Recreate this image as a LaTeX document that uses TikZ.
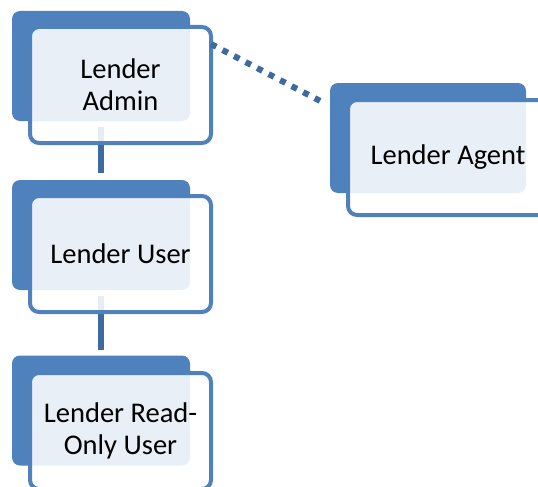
\documentclass[tikz,border=0pt]{standalone}
\usepackage{fontspec}
\setmainfont{Carlito}
\usetikzlibrary{calc}
\definecolor{backblue}{HTML}{4F81BD}
\definecolor{connblue}{HTML}{3F6A9F}
\tikzset{
  backbox/.style={fill=backblue, draw=none, rounded corners=8pt, minimum width=178pt, minimum height=110pt, inner sep=0pt, outer sep=0pt},
  frontbox/.style={draw=backblue, line width=4pt, fill=white, fill opacity=0.88, text opacity=1, rounded corners=9pt, minimum width=181pt, minimum height=116pt, inner sep=0pt, outer sep=0pt, align=center, font=\fontsize{28.5}{32}\selectfont},
  conn/.style={draw=connblue, line width=6pt},
  dashconn/.style={draw=connblue, line width=6pt, dash pattern=on 6pt off 7pt}
}
\begin{document}
\begin{tikzpicture}[x=1pt,y=-1pt]
\useasboundingbox (0,0) rectangle (538,487);
\clip (0,0) rectangle (538,487);
% back boxes
\node[backbox] (b1) at (101,66) {};
\node[backbox] (b2) at (101,235) {};
\node[backbox] (b3) at (101,410.5) {};
\node[backbox, minimum width=196pt] (b4) at (428,138) {};
% vertical connectors
\draw[conn] ([yshift=-6pt]b1.south) -- ([yshift=7pt]b2.north);
\draw[conn] ([yshift=-6pt]b2.south) -- ([yshift=6pt]b3.north);
% front boxes
\node[frontbox] (f1) at (120.5,85) {Lender\\Admin};
\node[frontbox] (f2) at (120.5,254) {Lender User};
\node[frontbox] (f3) at (120.5,431) {Lender Read-\\Only User};
\node[frontbox, minimum width=200pt, minimum height=115pt] (f4) at (448,157.5) {Lender Agent};
% dashed connector
\coordinate (d1) at ($(f1.north east)+(0,17)$);
\coordinate (d2) at ($(b4.north west)+(-4,21)$);
\draw[dashconn] (d1) -- (d2);
\end{tikzpicture}
\end{document}
